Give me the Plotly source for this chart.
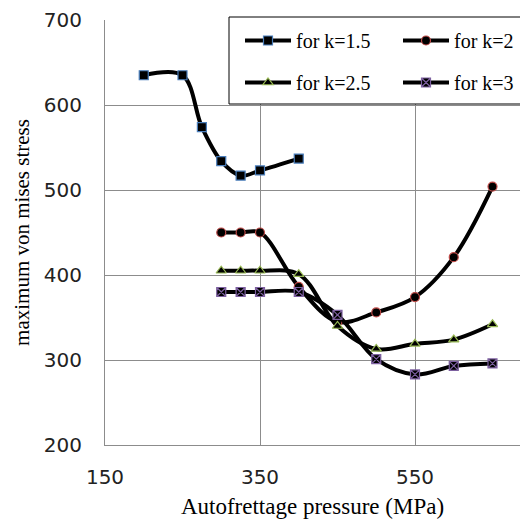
import plotly.graph_objects as go

# Data
x_k15 = [200, 250, 275, 300, 325, 350, 400]
y_k15 = [635, 635, 574, 534, 517, 523, 537]

x_k2 = [300, 325, 350, 400, 450, 500, 550, 600, 650]
y_k2 = [450, 450, 450, 386, 345, 356, 374, 421, 504]

x_k25 = [300, 325, 350, 400, 450, 500, 550, 600, 650]
y_k25 = [405, 405, 405, 401, 340, 313, 319, 324, 342]

x_k3 = [300, 325, 350, 400, 450, 500, 550, 600, 650]
y_k3 = [380, 380, 380, 380, 353, 301, 283, 293, 296]

names = ["for k=1.5", "for k=2", "for k=2.5", "for k=3"]
x_ticks = [150, 350, 550, 750]
y_ticks = [200, 300, 400, 500, 600, 700]

W, H = 520, 521
L, R, T, B = 105, 0, 20, 76
PW, PH = W - L - R, H - T - B
X0, X1 = 150, 150 + PW / 0.775


def px(xp):
    return (xp - L) / PW


def py(yp):
    return (H - B - yp) / PH


fig = go.Figure()

specs = [
    (x_k15, y_k15, names[0], "square", "#4A7EBB", "legend", "a"),
    (x_k2, y_k2, names[1], "circle", "#BE4B48", "legend2", "a"),
    (x_k25, y_k25, names[2], "triangle-up", "#98B954", "legend", "b"),
    (x_k3, y_k3, names[3], "square-x", "#7D60A0", "legend2", "b"),
]
for xs, ys, nm, sym, col, lg, grp in specs:
    fig.add_trace(go.Scatter(
        x=xs, y=ys, name=nm, mode="lines+markers",
        line=dict(color="black", width=4, shape="spline", smoothing=1),
        marker=dict(symbol=sym, size=9, color="black",
                    line=dict(color=col, width=1.2)),
        legend=lg, legendgroup=grp,
    ))

# legend frame (extends beyond the right edge like the reference)
fig.add_shape(type="rect", xref="paper", yref="paper",
              x0=px(229), x1=px(560), y0=py(104), y1=py(17),
              fillcolor="white", line=dict(color="black", width=1),
              layer="above")

legend_font = dict(family="Liberation Serif", size=20, color="black")
fig.update_layout(
    width=W, height=H,
    margin=dict(l=L, r=R, t=T, b=B, pad=0),
    plot_bgcolor="white", paper_bgcolor="white",
    legend=dict(x=px(240), y=py(21), xanchor="left", yanchor="top",
                bgcolor="rgba(0,0,0,0)", font=legend_font,
                tracegroupgap=13, itemwidth=46),
    legend2=dict(x=px(398), y=py(21), xanchor="left", yanchor="top",
                 bgcolor="rgba(0,0,0,0)", font=legend_font,
                 tracegroupgap=13, itemwidth=46),
    xaxis=dict(range=[X0, X1], tickvals=x_ticks, ticktext=[str(v) for v in x_ticks],
               showgrid=True, gridcolor="#8c8c8c", gridwidth=1,
               showline=True, linecolor="#8c8c8c", linewidth=1,
               zeroline=False, ticks="", ticklabelstandoff=14,
               tickfont=dict(family="DejaVu Sans", size=20, color="#222"),
               title=dict(text="Autofrettage pressure (MPa)", standoff=9,
                          font=dict(family="Liberation Serif", size=23, color="black"))),
    yaxis=dict(range=[200, 700], tickvals=y_ticks,
               showgrid=True, gridcolor="#8c8c8c", gridwidth=1,
               showline=True, linecolor="#8c8c8c", linewidth=1,
               zeroline=False, ticks="", ticklabelstandoff=18,
               tickfont=dict(family="DejaVu Sans", size=20, color="#222"),
               title=dict(text="maximum von mises stress", standoff=8,
                          font=dict(family="Liberation Serif", size=21, color="black"))),
)

fig.write_html("out.html")
